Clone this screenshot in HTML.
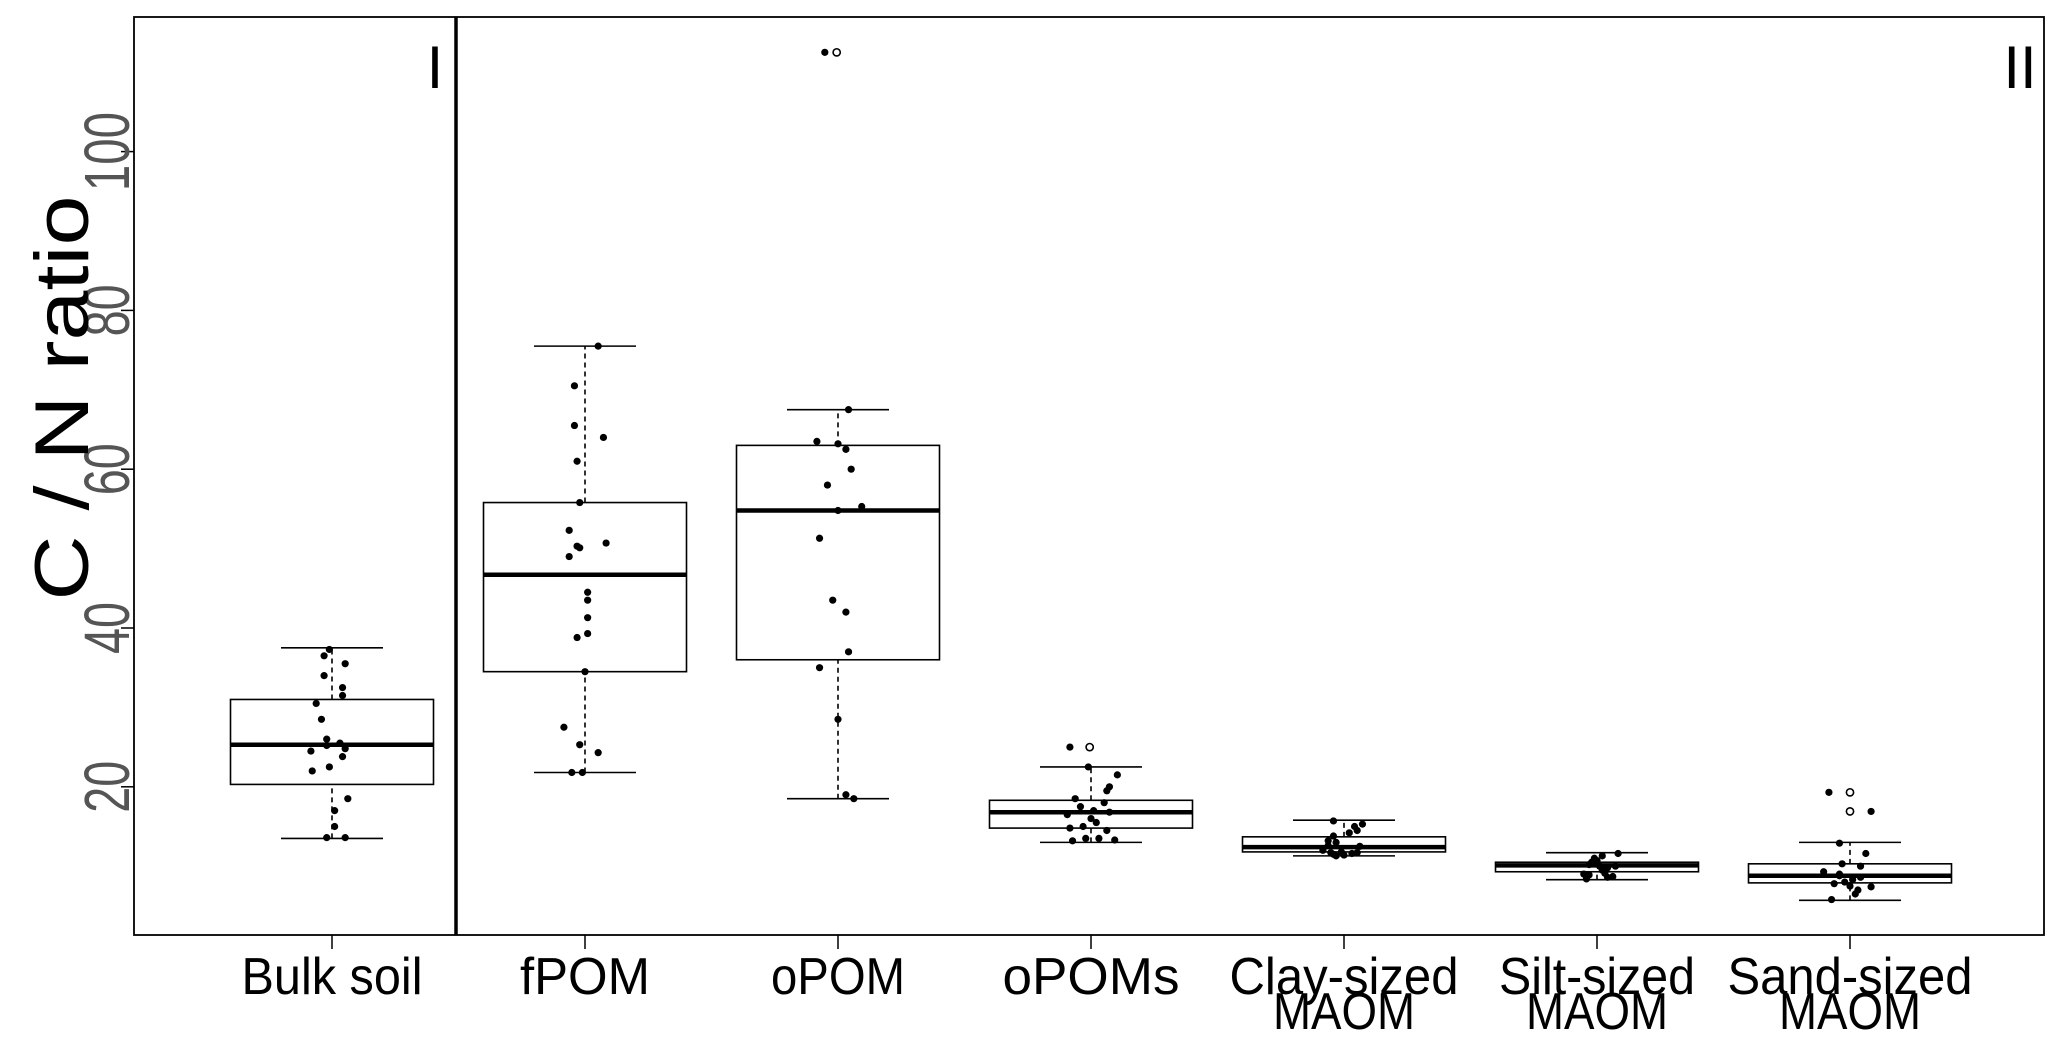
<!DOCTYPE html>
<html><head><meta charset="utf-8"><style>
html,body{margin:0;padding:0;background:#fff;}
svg{display:block;font-family:"Liberation Sans",sans-serif;}
</style></head><body>
<svg id="s" width="2067" height="1045" viewBox="0 0 2067 1045" xmlns="http://www.w3.org/2000/svg">
<rect x="0" y="0" width="2067" height="1045" fill="#fff"/>
<rect x="134" y="17" width="1910" height="918" fill="none" stroke="#000" stroke-width="1.8"/>
<line x1="456" y1="17" x2="456" y2="935" stroke="#000" stroke-width="3.5"/>
<text x="435" y="88" font-size="60" text-anchor="middle">I</text>
<text x="2020" y="88" font-size="60" text-anchor="middle">II</text>
<g id="ax" stroke="#000" stroke-width="1.5"></g>
<g id="yl" fill="#555" font-size="64" text-anchor="middle"></g>
<text transform="translate(88,398) rotate(-90)" font-size="76" text-anchor="middle" textLength="405" lengthAdjust="spacingAndGlyphs">C / N ratio</text>
<g font-size="52" text-anchor="middle" fill="#000">
<text x="332" y="994" textLength="181" lengthAdjust="spacingAndGlyphs">Bulk soil</text>
<text x="585" y="994" textLength="130" lengthAdjust="spacingAndGlyphs">fPOM</text>
<text x="838" y="994" textLength="134" lengthAdjust="spacingAndGlyphs">oPOM</text>
<text x="1091" y="994" textLength="177" lengthAdjust="spacingAndGlyphs">oPOMs</text>
<text x="1344" y="994" textLength="229" lengthAdjust="spacingAndGlyphs">Clay-sized</text>
<text x="1344" y="1029" textLength="142" lengthAdjust="spacingAndGlyphs">MAOM</text>
<text x="1597" y="994" textLength="196" lengthAdjust="spacingAndGlyphs">Silt-sized</text>
<text x="1597" y="1029" textLength="142" lengthAdjust="spacingAndGlyphs">MAOM</text>
<text x="1850" y="994" textLength="245" lengthAdjust="spacingAndGlyphs">Sand-sized</text>
<text x="1850" y="1029" textLength="142" lengthAdjust="spacingAndGlyphs">MAOM</text>
</g>
<g id="bx"></g>
<g id="pt"></g>
</svg>
<script>
var NS="http://www.w3.org/2000/svg";
function Y(v){return 786.8-(v-20)*7.94;}
function el(p,t,a){var e=document.createElementNS(NS,t);for(var k in a)e.setAttribute(k,a[k]);document.getElementById(p).appendChild(e);return e;}
[20,40,60,80,100].forEach(function(v){
 el("ax","line",{x1:121,y1:Y(v),x2:134,y2:Y(v)});
 var t=el("yl","text",{transform:"translate(129,"+Y(v)+") rotate(-90)",textLength:(v==100?79:52),lengthAdjust:"spacingAndGlyphs"});t.textContent=v;
});
var cx=[332,585,838,1091,1344,1597,1850];
cx.forEach(function(x){el("ax","line",{x1:x,y1:935,x2:x,y2:949});});
var B=[[13.5,20.3,25.3,31,37.5],[21.8,34.5,46.7,55.8,75.5],[18.5,36,54.8,63,67.5],[13,14.8,16.8,18.3,22.5],[11.3,11.8,12.4,13.7,15.8],[8.3,9.3,10.1,10.5,11.7],[5.7,7.9,8.8,10.3,13]];
var hw=101.5,cw=51;
B.forEach(function(b,i){var x=cx[i];
 var a={stroke:"#000","stroke-width":1.6,fill:"none"};
 el("bx","line",Object.assign({x1:x,y1:Y(b[0]),x2:x,y2:Y(b[1]),"stroke-dasharray":"5,4"},a));
 el("bx","line",Object.assign({x1:x,y1:Y(b[3]),x2:x,y2:Y(b[4]),"stroke-dasharray":"5,4"},a));
 el("bx","line",Object.assign({x1:x-cw,y1:Y(b[0]),x2:x+cw,y2:Y(b[0])},a));
 el("bx","line",Object.assign({x1:x-cw,y1:Y(b[4]),x2:x+cw,y2:Y(b[4])},a));
 el("bx","rect",Object.assign({x:x-hw,y:Y(b[3]),width:2*hw,height:Y(b[1])-Y(b[3])},a));
 el("bx","line",{x1:x-hw,y1:Y(b[2]),x2:x+hw,y2:Y(b[2]),stroke:"#000","stroke-width":4.5});
});
var P=[
[[37.3,-2],[36.5,-6],[35.5,10],[34,-6],[32.5,8],[31.5,8],[30.5,-12],[28.5,-8],[26,-4],[25.5,6],[25.2,-4],[24.8,10],[24.5,-16],[23.8,8],[22.5,-2],[22,-15],[18.5,12],[17,2],[15,2],[13.6,-4],[13.6,10]],
[[75.5,10],[70.5,-8],[65.5,-8],[64,14],[61,-6],[55.8,-4],[52.3,-12],[50.3,-6],[50.7,16],[50.1,-4],[49,-12],[44.5,2],[43.5,2],[41.3,2],[39.3,2],[38.8,-6],[34.5,0],[27.5,-16],[25.3,-4],[24.3,10],[21.8,-10],[21.8,-2]],
[[112.5,-10],[67.5,8],[63.5,-16],[63.2,0],[62.5,6],[60,10],[58,-8],[55.3,18],[54.8,0],[51.3,-14],[43.5,-4],[42,6],[37,8],[35,-14],[28.5,0],[19,6],[18.5,12]],
[[25,-16],[22.5,-2],[21.5,20],[20,14],[19.5,12],[18.5,-12],[18,10],[17.5,-8],[17,2],[16.8,14],[16.5,-18],[16,0],[15.5,4],[15,-6],[14.8,-16],[14.5,12],[13.5,-4],[13.2,-14],[13.5,6],[13.3,18]],
[[15.7,-8],[15.3,14],[15,8],[14.5,10],[14.2,4],[13.8,-8],[13.2,-12],[13,-6],[12.6,-12],[12.5,12],[12,-16],[11.8,-2],[11.7,-10],[11.5,-8],[11.4,0],[11.6,6],[11.7,10],[11.3,-6]],
[[11.3,4],[11.6,16],[11,-2],[10.7,0],[10.5,-4],[10.2,-6],[10,2],[9.8,8],[10,14],[9.5,4],[9.1,6],[9,-10],[8.9,-6],[8.7,12],[8.6,8],[8.4,-8]],
[[19.3,-16],[16.9,16],[12.9,-8],[11.6,12],[10.3,-6],[10,8],[9.3,-20],[9,-8],[8.8,-8],[8.6,8],[8.3,2],[8,-4],[7.8,-12],[7.5,0],[7.4,16],[7,6],[6.5,4],[5.8,-14]]
];
P.forEach(function(g,i){g.forEach(function(p){el("pt","circle",{cx:cx[i]+p[1]*1.318,cy:Y(p[0]),r:3.6,fill:"#000"});});});
var O=[[2,112.5,-1],[3,25,-1],[6,19.3,0],[6,16.9,0]];
O.forEach(function(o){el("pt","circle",{cx:cx[o[0]]+o[2]*1.318,cy:Y(o[1]),r:3.6,fill:"#fff",stroke:"#000","stroke-width":1.6});});
</script>
</body></html>
